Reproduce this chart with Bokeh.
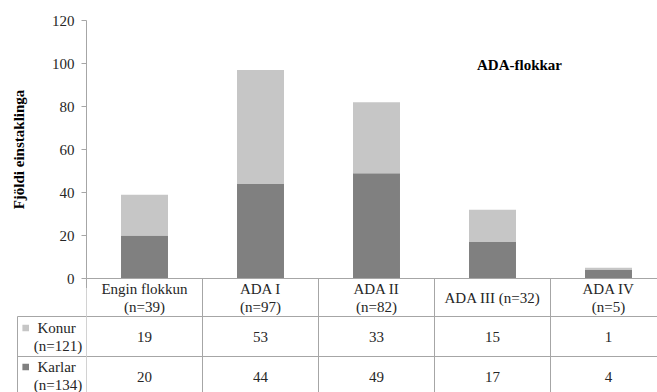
from bokeh.plotting import figure
from bokeh.layouts import column, row
from bokeh.models import ColumnDataSource, FixedTicker, Range1d, LinearAxis
from bokeh.core.properties import value
from bokeh.embed import file_html
from bokeh.resources import INLINE

# ---- data ----
categories = ["Engin flokkun", "ADA I", "ADA II", "ADA III", "ADA IV"]
wrap_header = [True, True, True, False, True]
konur = [19, 53, 33, 15, 1]
karlar = [20, 44, 49, 17, 4]
y_ticks = [0, 20, 40, 60, 80, 100, 120]
title_text = "ADA-flokkar"
y_label = "Fjöldi einstaklinga"
series_names = ["Konur", "Karlar"]

# ---- styling ----
FONT = "Liberation Serif"
TXT = "#262626"
GRID = "#a6a6a6"
DARK = "#808080"
LIGHT = "#c6c6c6"

W, H = 657, 392
LEFT, TOP = 86, 20          # left edge of the plotting area, top margin
COL = 116.0                 # pixel width of one category column
ZERO_PX = 278               # pixel row of the zero line
GAP = 10                    # room under the zero line for the "0" label
CHART_H = ZERO_PX + GAP
TABLE_H = H - ZERO_PX       # table overlaps the chart's bottom strip

totals = [a + b for a, b in zip(konur, karlar)]
ncol = len(categories)
xs = [i + 0.5 for i in range(ncol)]
x_end = (W - LEFT) / COL
headers = [f"{c}\n(n={t})" if w else f"{c} (n={t})"
           for c, t, w in zip(categories, totals, wrap_header)]

# ---------------- chart ----------------
p = figure(width=W, height=CHART_H, output_backend="svg",
           toolbar_location=None,
           x_range=Range1d(0, x_end), y_range=Range1d(0, 120),
           x_axis_type=None,
           min_border_left=LEFT, min_border_top=TOP,
           min_border_right=0, min_border_bottom=GAP)
p.outline_line_color = None
p.xgrid.visible = False
p.ygrid.visible = False

ax = p.yaxis[0]
ax.ticker = FixedTicker(ticks=y_ticks)
ax.axis_line_color = GRID
ax.major_tick_line_color = GRID
ax.major_tick_out = 5
ax.major_tick_in = 0
ax.minor_tick_line_color = None
ax.major_label_standoff = 7
ax.major_label_text_font = FONT
ax.major_label_text_font_size = "15px"
ax.major_label_text_color = TXT
ax.axis_label = y_label
ax.axis_label_text_font = FONT
ax.axis_label_text_font_size = "15px"
ax.axis_label_text_font_style = "bold"
ax.axis_label_text_color = "#000000"
ax.axis_label_standoff = 22

# zero line with the column separators hanging below it
xax = LinearAxis(ticker=FixedTicker(ticks=list(range(ncol + 1))),
                 axis_line_color=GRID, major_tick_line_color=GRID,
                 major_tick_out=GAP, major_tick_in=0,
                 minor_tick_line_color=None,
                 major_label_text_font_size="0px", major_label_standoff=0,
                 major_label_overrides={i: "" for i in range(ncol + 1)})
p.add_layout(xax, "below")

src = ColumnDataSource(dict(x=xs, Karlar=karlar, Konur=konur))
p.vbar_stack(["Karlar", "Konur"], x="x", width=0.405, color=[DARK, LIGHT],
             line_color=None, source=src)

p.text(x=[(519 - LEFT) / COL], y=[(ZERO_PX - 64) / 2.15], text=[title_text],
       text_align="center", text_baseline="middle",
       text_font=value(FONT), text_font_size="15px",
       text_font_style="bold", text_color="#000000")


def bare(fig):
    fig.outline_line_color = None
    fig.xgrid.visible = False
    fig.ygrid.visible = False
    fig.background_fill_color = None
    fig.border_fill_color = None
    return fig


# ---------------- data table: series keys (left of the axis) ----------------
# x and y in pixels from the page's left / top edge
leg = bare(figure(width=LEFT, height=TABLE_H, output_backend="svg",
                  toolbar_location=None,
                  x_range=Range1d(0, LEFT), y_range=Range1d(-H, -ZERO_PX),
                  x_axis_type=None, y_axis_type=None,
                  min_border_left=0, min_border_right=0,
                  min_border_top=0, min_border_bottom=0))
leg.segment(x0=[17], y0=[-316], x1=[17], y1=[-H - 2],
            line_color=GRID, line_width=1)
leg.segment(x0=[17, 17], y0=[-316, -356], x1=[LEFT + 2, LEFT + 2],
            y1=[-316, -356], line_color=GRID, line_width=1)
leg.rect(x=[25.2, 25.2], y=[-327.5, -366.5], width=6.6, height=6.6,
         fill_color=[LIGHT, DARK], line_color=None)
leg.text(x=[37, 37], y=[-327.5, -366.5], text=series_names,
         text_align="left", text_baseline="middle", text_font=value(FONT),
         text_font_size="15px", text_color=TXT)
leg.text(x=[57.5, 57.5], y=[-345, -384.5],
         text=[f"(n={sum(konur)})", f"(n={sum(karlar)})"],
         text_align="center", text_baseline="middle", text_font=value(FONT),
         text_font_size="15px", text_color=TXT)

# ---------------- data table: values per category ----------------
t = bare(figure(width=W - LEFT, height=TABLE_H, output_backend="svg",
                toolbar_location=None,
                x_range=Range1d(0, x_end), y_range=Range1d(-H, -ZERO_PX),
                x_axis_type=None, y_axis_type=None,
                min_border_left=0, min_border_right=0,
                min_border_top=0, min_border_bottom=0))
vx = [float(i) for i in range(ncol)]
t.segment(x0=vx, y0=[-ZERO_PX - 1] * ncol, x1=vx, y1=[-H - 2] * ncol,
          line_color=GRID, line_width=1)
t.segment(x0=[0, 0], y0=[-316, -356], x1=[x_end] * 2, y1=[-316, -356],
          line_color=GRID, line_width=1)

t.text(x=xs, y=[-297.5] * ncol, text=headers, text_align="center",
       text_baseline="middle", text_font=value(FONT), text_font_size="15px",
       text_color=TXT, text_line_height=1.15)
t.text(x=xs, y=[-336] * ncol, text=[str(v) for v in konur],
       text_align="center", text_baseline="middle", text_font=value(FONT),
       text_font_size="15px", text_color=TXT)
t.text(x=xs, y=[-376] * ncol, text=[str(v) for v in karlar],
       text_align="center", text_baseline="middle", text_font=value(FONT),
       text_font_size="15px", text_color=TXT)

table = row(leg, t, spacing=0)
table.margin = (-GAP, 0, 0, 0)
layout = column(p, table, spacing=0)
open("out.html", "w").write(file_html(layout, INLINE))
